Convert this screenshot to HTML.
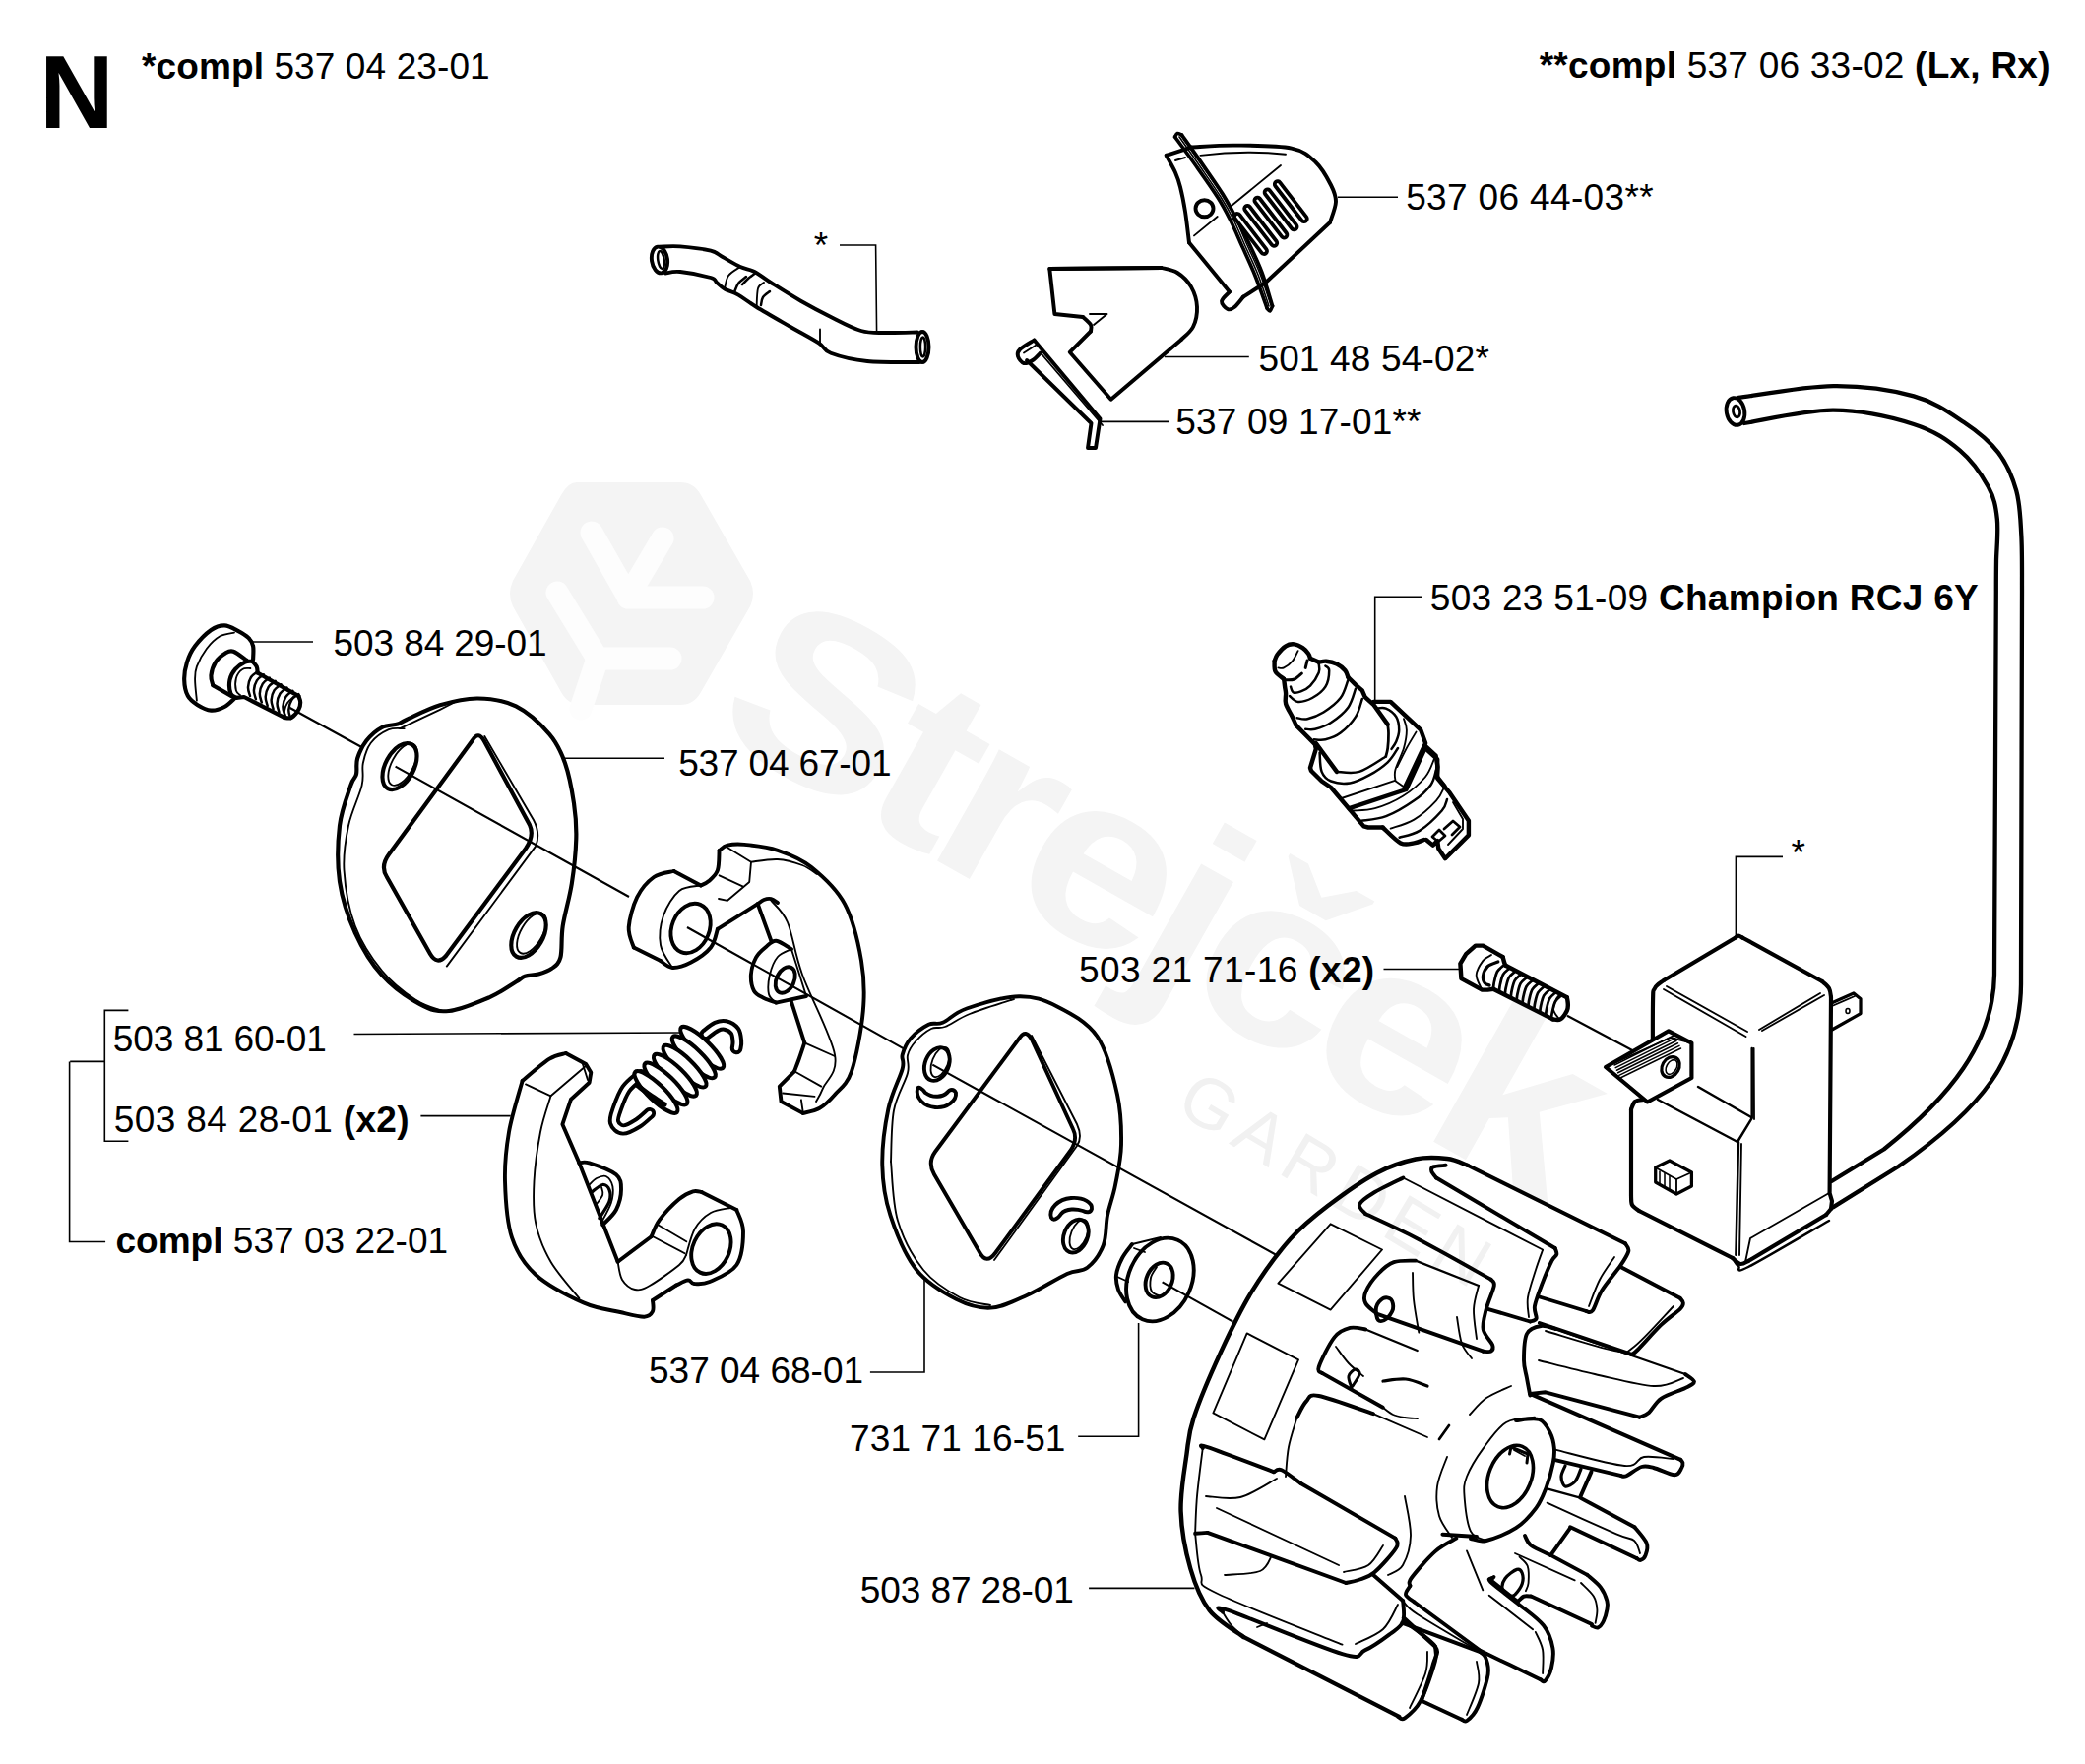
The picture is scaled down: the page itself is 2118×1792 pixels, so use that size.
<!DOCTYPE html>
<html><head><meta charset="utf-8"><style>
html,body{margin:0;padding:0;background:#fff;width:2118px;height:1792px;overflow:hidden}
svg{position:absolute;left:0;top:0}
</style></head><body>
<svg width="2118" height="1792" viewBox="0 0 2118 1792" font-family="Liberation Sans" fill="none" stroke="#000" stroke-linejoin="round" stroke-linecap="round">
<g fill="#f4f4f4" stroke="none">
<path d="M586 490H691Q705 490 712 503L762 590Q768 603 762 616L712 703Q705 716 691 716H591Q577 716 570 703L521 616Q515 603 521 590L570 503Q577 490 586 490Z"/>
<g stroke="#fdfdfd" stroke-width="23" stroke-linecap="round" stroke-linejoin="round" fill="none">
<path d="M601 541L638 606L673 547"/>
<path d="M638 607H714"/>
<path d="M566 602L607 669H681"/>
<path d="M607 669L590 720"/>
</g>
<text x="0" y="0" font-size="245" font-weight="bold" letter-spacing="-11" transform="translate(718 742) rotate(29.5) scale(1.12 1)">Strejček</text>
<text x="1192" y="1128" font-size="72" letter-spacing="9" transform="rotate(31 1192 1128)" fill="#f1f1f1">GARDEN</text>
</g>
<g stroke-width="3">
<path d="M294.6 719L367.4 759M401.6 778.6L639 911M698 942L919.8 1066.3M947.3 1081.6L1298 1275.7" stroke-width="2.12" stroke-linecap="butt"/>
<path d="M1180.6 1302.3L1252.5 1342.6" stroke-width="2.12" stroke-linecap="butt"/>
<path d="M1592 1031.8L1660 1068" stroke-width="2.12" stroke-linecap="butt"/>
<path d="M670 250.6C673.5 250.6 682.3 249.7 691 250.4C699.7 251.1 714.8 252.9 722 254.7C729.2 256.5 729 258.3 734 261C739 263.7 746.6 268.5 752 271C757.4 273.5 761.3 273.3 766.5 276C771.7 278.7 775.2 282.1 783 287C790.8 291.9 803.3 299.9 813.5 305.7C823.7 311.5 833.8 316.9 844 322C854.2 327.1 865.4 333.3 874.7 336C884 338.7 890.5 337.8 900 338C909.5 338.2 926.7 337.6 932 337.5" stroke-width="3.9"/>
<path d="M676 277.5C678.5 277.2 683.3 275.2 691 276C698.7 276.8 715.8 280.2 722 282C728.2 283.8 725.7 285.1 728 287C730.3 288.9 732.3 291.4 736 293.5C739.7 295.6 744.6 296.5 750 299.6C755.4 302.7 759.8 306.6 768.6 312C777.4 317.4 792.4 325.9 803 332C813.6 338.1 825.2 344.1 832 348.6C838.8 353.1 835.8 355.7 844 358.8C852.2 361.9 866 365.5 881 367C896 368.5 925.2 367.8 934 368" stroke-width="3.9"/>
<ellipse cx="670" cy="264" rx="8" ry="13.5" transform="rotate(-8 670 264)" stroke-width="3.9"/>
<ellipse cx="671.5" cy="264" rx="3.2" ry="9" transform="rotate(-8 671.5 264)" stroke-width="2.5"/>
<ellipse cx="937" cy="352.5" rx="6.5" ry="15.5" stroke-width="3.9"/>
<ellipse cx="937.5" cy="352.5" rx="2.6" ry="10" stroke-width="2.5"/>
<path d="M752 271C750 272.5 742.7 276.2 740 280C737.3 283.8 736.7 291.2 736 293.5" stroke-width="1.86"/>
<path d="M758 281C756.7 282.2 752 285.3 750 288C748 290.7 746.7 295.5 746 297" stroke-width="2.5"/>
<path d="M767.6 277C766.3 278 762.3 281 760 283C757.7 285 755 288 754 289" stroke-width="2.5"/>
<path d="M776 287C775 288 771.2 288.8 770 293C768.8 297.2 768.8 308.8 768.6 312" stroke-width="1.86"/>
<path d="M782 296C780.8 297 776.5 299.7 775 302C773.5 304.3 773.3 308.7 773 310" stroke-width="2.5"/>
<path d="M833 334.5V350" stroke-width="1.86"/>
<path d="M1066.3 273L1179.6 272" stroke-width="3.9"/>
<path d="M1179.6 272C1182.3 272.8 1190.9 273.8 1196 277C1201.1 280.2 1206.7 285.6 1210 291.4C1213.3 297.2 1215.7 305 1216 311.8C1216.3 318.6 1214.7 326.5 1212 332C1209.3 337.5 1202 342.8 1200 345" stroke-width="3.9"/>
<path d="M1200 345L1128.6 405.7L1086.7 357.8L1108 336.5" stroke-width="3.9"/>
<path d="M1108 336.5C1108 335.4 1109.3 332.4 1108 330C1106.7 327.6 1101.3 323.3 1100 322" stroke-width="3.9"/>
<path d="M1100 322L1071.4 319L1066.3 273L1179.6 272" stroke-width="3.9"/>
<path d="M1107 319L1124.5 319L1111 330" stroke-width="1.86"/>
<path d="M1050.5 345.5L1117.5 425.5L1113 455L1105 455L1108.5 430L1043 366" stroke-width="3.9"/>
<path d="M1050.5 345.5C1048.1 347.1 1038.8 352.2 1036 355C1033.2 357.8 1033.3 359.7 1034 362C1034.7 364.3 1037.5 368.3 1040 369C1042.5 369.7 1046.2 367.8 1049 366C1051.8 364.2 1055.7 359.8 1057 358.5" stroke-width="3.9"/>
<path d="M1040 358.5L1054 349.5M1057 358.5L1120 432" stroke-width="1.86"/>
<path d="M1210 149.6C1217.5 149.3 1238 147.4 1255 147.6C1272 147.8 1298.4 147.7 1312 150.6C1325.6 153.5 1330 158.8 1336.7 165C1343.4 171.2 1348.6 181.3 1352 188C1355.4 194.7 1357.2 198.7 1357 205C1356.8 211.3 1352 222.5 1351 226" stroke-width="3.9"/>
<path d="M1351 226L1285.7 287L1263 301.6" stroke-width="3.9"/>
<path d="M1263 301.6C1261.5 303.3 1256.7 309.9 1254 312C1251.3 314.1 1249.2 315 1247 314C1244.8 313 1240.7 308.9 1241 306C1241.3 303.1 1247.7 298.1 1249 296.5" stroke-width="3.9"/>
<path d="M1249 296.5L1208 246.5" stroke-width="3.9"/>
<path d="M1208 246.5C1207.3 241.2 1205.5 224.4 1204 215C1202.5 205.6 1200.7 196.7 1199 190C1197.3 183.3 1196.3 180.4 1193.9 175C1191.5 169.6 1186.2 160.7 1184.7 157.8" stroke-width="3.9"/>
<path d="M1184.7 157.8L1210 149.6" stroke-width="3.9"/>
<path d="M1193.6 139C1197.3 144.2 1208.7 159.7 1216 170C1223.3 180.3 1231.6 192 1237.3 201C1243 210 1245.8 215.7 1250 224C1254.2 232.3 1258 241.7 1262.2 251C1266.4 260.3 1270.8 269.6 1275 280C1279.2 290.4 1285.2 307.8 1287.2 313.3" stroke-width="3.64"/>
<path d="M1200.5 137C1203.9 141.8 1214.1 156 1221 166C1227.9 176 1236.2 187.7 1242 197C1247.8 206.3 1251.4 213.3 1256 222C1260.6 230.7 1265.4 239.8 1269.7 249C1274 258.2 1278.2 266.7 1282 277C1285.8 287.3 1290.8 305.2 1292.6 310.8" stroke-width="3.64"/>
<path d="M1193.6 139C1194 138.4 1194.8 135.8 1196 135.5C1197.2 135.2 1199.8 136.8 1200.5 137" stroke-width="3.64"/>
<path d="M1287.2 313.3C1287.7 313.8 1289.1 316.4 1290 316C1290.9 315.6 1292.2 311.7 1292.6 310.8" stroke-width="3.64"/>
<path d="M1198 139C1201.5 144 1212 158.8 1219 169C1226 179.2 1234.3 191 1240 200C1245.7 209 1248.8 214.7 1253 223C1257.2 231.3 1260.8 240.7 1265 250C1269.2 259.3 1274 268.8 1278 279C1282 289.2 1287.2 305.7 1289 311" stroke-width="1.55"/>
<path d="M1200 138C1203.5 143 1214 157.8 1221 168C1228 178.2 1236.3 190 1242 199C1247.7 208 1250.8 213.7 1255 222C1259.2 230.3 1262.8 239.7 1267 249C1271.2 258.3 1276 267.8 1280 278C1284 288.2 1289.2 304.7 1291 310" stroke-width="1.55"/>
<ellipse cx="1223.5" cy="211.8" rx="9" ry="8.5" stroke-width="3.9"/>
<path d="M1257 220C1261.5 225.8 1279.5 249.2 1284 255" stroke-width="9.8"/>
<path d="M1257 220C1261.5 225.8 1279.5 249.2 1284 255" stroke-width="2.2" stroke="#fff"/>
<path d="M1267.2 211.8C1271.7 217.6 1289.7 241 1294.2 246.8" stroke-width="9.8"/>
<path d="M1267.2 211.8C1271.7 217.6 1289.7 241 1294.2 246.8" stroke-width="2.2" stroke="#fff"/>
<path d="M1277.4 203.6C1281.9 209.4 1299.9 232.8 1304.4 238.6" stroke-width="9.8"/>
<path d="M1277.4 203.6C1281.9 209.4 1299.9 232.8 1304.4 238.6" stroke-width="2.2" stroke="#fff"/>
<path d="M1287.6 195.4C1292.1 201.2 1310.1 224.6 1314.6 230.4" stroke-width="9.8"/>
<path d="M1287.6 195.4C1292.1 201.2 1310.1 224.6 1314.6 230.4" stroke-width="2.2" stroke="#fff"/>
<path d="M1297.8 187.2C1302.3 193 1320.3 216.4 1324.8 222.2" stroke-width="9.8"/>
<path d="M1297.8 187.2C1302.3 193 1320.3 216.4 1324.8 222.2" stroke-width="2.2" stroke="#fff"/>
<path d="M1219.4 157.8C1250 154 1280 154 1306 156.7" stroke-width="1.86"/>
<path d="M1250 209.8L1301 168M1213 239.4L1236.7 220M1194 163L1204 160" stroke-width="1.86"/>
<path d="M1766 404C1782.1 402 1832.7 392.5 1862.4 392.2C1892.1 391.9 1921.9 396.3 1944 402.4C1966.1 408.5 1980.7 419.5 1995 429C2009.3 438.5 2020.9 448 2029.8 459.6C2038.7 471.2 2044.3 484.4 2048.2 498.4C2052.1 512.3 2052.3 526.4 2053.3 543.3C2054.3 560.2 2053.9 590.5 2054 600L2053 1000C2052.5 1075 2015 1125 1928.4 1185L1862 1226.4" stroke-width="4.29"/>
<path d="M1772 430C1787.1 427.8 1833.7 416.5 1862.4 416.7C1891.1 416.9 1922.6 424.2 1944 431C1965.4 437.8 1978.4 447.1 1991 457.6C2003.6 468.2 2013.3 482.7 2019.6 494.3C2025.9 505.9 2027.4 514.4 2028.8 527C2030.2 539.6 2028.2 557.8 2028 570C2027.8 582.2 2027.8 595 2027.8 600L2026 990C2025 1060 1980 1115 1913.7 1167.5L1860.6 1200" stroke-width="4.29"/>
<ellipse cx="1763" cy="418" rx="9.2" ry="14" transform="rotate(-10 1763 418)" stroke-width="3.9"/>
<ellipse cx="1764" cy="418" rx="3.5" ry="6" transform="rotate(-10 1764 418)" stroke-width="2.75"/>
<path d="M257.1 669.9C257.1 667.6 257.9 659.9 257.1 656.3C256.4 652.7 255.2 650.7 252.6 648.1C250 645.5 245.8 642.9 241.7 640.8C237.6 638.7 232.6 635.5 228.1 635.4C223.6 635.3 219.4 636.5 214.4 640C209.4 643.5 202.2 650.9 198.1 656.3C194 661.7 191.8 666.9 190 672.6C188.2 678.3 187 685 187.2 690.7C187.3 696.5 188.6 702.9 190.9 707.1C193.2 711.4 196.9 713.8 200.8 716.2C204.7 718.6 209.9 721.3 214.4 721.6C218.9 721.9 224 720.1 228.1 718C232.2 715.9 237.2 710.4 239 708.9" stroke-width="4.16"/>
<path d="M238 642.6C235.6 643.2 228.2 643.6 223.5 646.3C218.8 649 213.8 653.9 209.9 659C206 664.1 201.9 671.8 199.9 677.1C197.9 682.4 198.1 685 198.1 690.7C198.1 696.5 199.6 708.1 199.9 711.6" stroke-width="1.86"/>
<path d="M250.7 670.8C248.4 669.3 240.7 662.9 237.1 661.7C233.5 660.5 232 661.7 229 663.5C226 665.3 221.4 668.8 219 672.6C216.6 676.4 214.8 682.3 214.4 686.2C214 690.1 216 694.5 216.3 696.2" stroke-width="4.16"/>
<path d="M216.3 696.2L235.3 707.1" stroke-width="4.16"/>
<path d="M256.2 671.7C256.9 672.6 259.8 675.1 260.7 677.1C261.6 679.1 261.5 682.4 261.6 683.5" stroke-width="4.16"/>
<path d="M261.6 683.5L303.4 707.1" stroke-width="4.16"/>
<path d="M303.4 707.1C303.7 708.1 305.2 711.1 305.2 713.4C305.2 715.7 304.9 718.1 303.4 720.7C301.9 723.3 298.5 727.5 296.1 728.9C293.7 730.3 290.1 728.9 288.9 728.9" stroke-width="4.16"/>
<path d="M288.9 728.9L248 708L239.9 708.9" stroke-width="4.16"/>
<path d="M239.9 708.9C239 708.1 235.5 707.4 234.4 704.4C233.3 701.4 232.7 694.8 233.5 690.7C234.3 686.6 236.4 682.9 239 679.9C241.6 676.9 246 674 248.9 672.6C251.8 671.2 255 671.9 256.2 671.7" stroke-width="4.16"/>
<path d="M254.4 679C253 679.1 248.6 678.2 246.2 679.9C243.8 681.5 240.9 685.3 239.9 688.9C238.9 692.5 239.2 698.8 239.9 701.6C240.6 704.5 243.3 705.3 244 706" stroke-width="1.86"/>
<path d="M262 682C260.8 683 256.7 685.3 255 688C253.3 690.7 252.2 694.8 252 698C251.8 701.2 253.7 705.5 254 707" stroke-width="2.5"/>
<path d="M267.9 685.3C266.7 686.3 262.6 688.6 260.9 691.3C259.2 694 258.1 698.1 257.9 701.3C257.7 704.5 259.6 708.8 259.9 710.3" stroke-width="2.5"/>
<path d="M273.8 688.6C272.6 689.6 268.5 691.9 266.8 694.6C265.1 697.3 264 701.4 263.8 704.6C263.6 707.8 265.5 712.1 265.8 713.6" stroke-width="2.5"/>
<path d="M279.7 691.9C278.5 692.9 274.4 695.2 272.7 697.9C271 700.6 269.9 704.7 269.7 707.9C269.5 711.1 271.4 715.4 271.7 716.9" stroke-width="2.5"/>
<path d="M285.6 695.2C284.4 696.2 280.3 698.5 278.6 701.2C276.9 703.9 275.8 708 275.6 711.2C275.4 714.4 277.3 718.7 277.6 720.2" stroke-width="2.5"/>
<path d="M291.5 698.5C290.3 699.5 286.2 701.8 284.5 704.5C282.8 707.2 281.7 711.3 281.5 714.5C281.3 717.7 283.2 722 283.5 723.5" stroke-width="2.5"/>
<path d="M297.4 701.8C296.2 702.8 292.1 705.1 290.4 707.8C288.7 710.5 287.6 714.6 287.4 717.8C287.2 721 289.1 725.3 289.4 726.8" stroke-width="2.5"/>
<path d="M303.3 705.1C302.1 706.1 298 708.4 296.3 711.1C294.6 713.8 293.5 717.9 293.3 721.1C293.1 724.3 295 728.6 295.3 730.1" stroke-width="2.5"/>
<path d="M298 708C297 709 293.5 711.7 292 714C290.5 716.3 289.3 719.8 289 722C288.7 724.2 289.8 726.2 290 727" stroke-width="1.86"/>
<path d="M485.5 709.5C498.4 709.7 512 711.4 524.1 717.4C536.2 723.4 549.8 736.2 558.1 745.8C566.4 755.4 569.9 763.5 574 775.2C578.1 786.9 581.1 803.1 583 816C584.9 828.9 585.7 838.7 585.3 852.3C584.9 865.9 583.1 883 580.8 897.7C578.5 912.5 573.6 928.3 571.7 940.8C569.8 953.3 571.3 965.3 569.4 972.5C567.5 979.7 564.2 981.1 560.4 983.9C556.6 986.7 551.3 988.2 546.8 989.5C542.3 990.8 537 990.5 533.2 991.8C529.4 993.1 530.2 993.9 524.1 997.5C518 1001.1 508.2 1008.4 496.9 1013.3C485.5 1018.2 467.7 1025.9 456 1027C444.3 1028.1 437.9 1026.2 426.6 1020.1C415.3 1014.1 399 1002.8 388 990.7C377 978.6 368 963.5 360.8 947.6C353.6 931.7 347.6 913.5 345 895.4C342.4 877.2 343.1 855 345 838.7C346.9 822.5 353.5 806.6 356.3 797.9C359.1 789.2 360.9 791.1 362 786.6C363.1 782.1 361.4 776.4 363.1 770.7C364.8 765 368.1 757.9 372.2 752.6C376.3 747.3 382.7 741.8 388 739C393.3 736.2 399.7 736.9 403.9 735.6C408.1 734.3 405.8 734.2 413 731C420.2 727.8 434.9 719.9 447 716.3C459.1 712.7 472.6 709.3 485.5 709.5Z" stroke-width="4.16"/>
<path d="M410.7 740.1C408.1 740.3 400.5 738.8 394.8 741.2C389.1 743.7 381 749.1 376.7 754.8C372.4 760.5 370.3 768 368.8 775.2C367.3 782.4 370.1 787.3 367.6 797.9C365.1 808.5 357 824.4 354 838.7C351 853.1 348.4 867 349.5 884C350.6 901 354.4 923.8 360.8 940.8C367.2 957.8 377.8 973.6 388 986.1C398.2 998.6 411.8 1008.8 422 1015.6C432.2 1022.4 444.8 1025.1 449.3 1027" stroke-width="1.86"/>
<path d="M406.2 740.1C413 736.9 437.2 725.5 447 720.8C456.8 716.1 462.1 713.2 465.1 711.7" stroke-width="1.86"/>
<path d="M480 752L395 868Q386 880 393 891L437 969Q444 981 453 971L534 862Q543 849 538 838L492 753Q486 742 480 752Z" stroke-width="4.16"/>
<path d="M492.3 748L542 833Q549 846 544.5 859.1L453.8 981.6" stroke-width="1.86"/>
<ellipse cx="406" cy="778.6" rx="14.5" ry="25.5" transform="rotate(28 406 778.6)" stroke-width="4.16"/>
<ellipse cx="409" cy="776.5" rx="11" ry="23.5" transform="rotate(28 409 776.5)" stroke-width="1.86"/>
<ellipse cx="537" cy="950" rx="14.5" ry="25" transform="rotate(30 537 950)" stroke-width="4.16"/>
<ellipse cx="540" cy="948" rx="11" ry="23" transform="rotate(30 540 948)" stroke-width="1.86"/>
<path d="M1035 1012.2C1050.3 1011.9 1060.6 1015.6 1073.9 1022.4C1087.2 1029.2 1104.5 1038.1 1114.7 1053C1124.9 1067.9 1131 1093.7 1135 1112C1139 1130.3 1139.3 1147.7 1139 1163C1138.7 1178.3 1135.3 1192 1133 1204C1130.7 1216 1127 1224.5 1125 1234.7C1123 1244.9 1124.2 1256.2 1120.8 1265C1117.4 1273.8 1110.6 1283 1104.5 1287.8C1098.4 1292.6 1094.2 1289.3 1084 1294C1073.8 1298.7 1055.9 1310.2 1043 1316C1030.1 1321.8 1018.4 1327.9 1006.5 1328.6C994.6 1329.3 984.4 1326.4 971.8 1320C959.2 1313.6 942.2 1304.2 931 1290C919.8 1275.8 910.3 1252.4 904.5 1234.7C898.7 1217 896.6 1201.7 896.3 1183.7C895.9 1165.7 899 1142.8 902.4 1126.5C905.8 1110.2 914.3 1094.9 916.7 1085.7C919.1 1076.5 915.3 1076.5 916.7 1071.4C918.1 1066.3 920.6 1060.1 925 1055C929.4 1049.9 937.9 1043.5 943.3 1040.8C948.7 1038.1 951.1 1041.5 957.6 1038.8C964.1 1036.1 969.1 1028.9 982 1024.5C994.9 1020.1 1019.7 1012.6 1035 1012.2Z" stroke-width="3.9"/>
<path d="M905 1180C905.5 1171.3 905.2 1143 908 1128C910.8 1113 919.7 1099.3 922 1090C924.3 1080.7 920.7 1077.3 922 1072C923.3 1066.7 926 1062.5 930 1058C934 1053.5 941 1047.5 946 1045C951 1042.5 953.5 1045.5 960 1043C966.5 1040.5 973.3 1034.7 985 1030C996.7 1025.3 1022.5 1017.5 1030 1015" stroke-width="1.86"/>
<path d="M905 1180C906.2 1190 906.5 1221.7 912 1240C917.5 1258.3 927.5 1277 938 1290C948.5 1303 963.7 1312 975 1318C986.3 1324 1000.8 1324.7 1006 1326" stroke-width="1.86"/>
<path d="M1036 1054L950 1170Q942 1181 949 1193L995 1272Q1002 1285 1011 1273L1088 1168Q1095 1157 1090 1147L1048 1056Q1042 1045 1036 1054Z" stroke-width="3.9"/>
<path d="M1048 1052L1094 1142Q1100 1155 1094 1164L1010 1280" stroke-width="1.86"/>
<ellipse cx="951.8" cy="1081" rx="12" ry="17.5" transform="rotate(22 951.8 1081)" stroke-width="3.9"/>
<ellipse cx="955" cy="1079" rx="8" ry="16" transform="rotate(22 955 1079)" stroke-width="1.86"/>
<ellipse cx="1092.8" cy="1255.6" rx="12" ry="17.5" transform="rotate(22 1092.8 1255.6)" stroke-width="3.9"/>
<ellipse cx="1096" cy="1254" rx="8" ry="16" transform="rotate(22 1096 1254)" stroke-width="1.86"/>
<path d="M932 1106C930 1115 938 1124 950 1125C962 1126 972 1118 971 1110C969 1106 965 1106 962 1110C958 1114 948 1116 940 1110C937 1106 933 1103 932 1106Z" stroke-width="3.9"/>
<path d="M1068 1237C1065 1228 1075 1218 1088 1217C1101 1216 1110 1222 1109 1228C1108 1232 1104 1232 1100 1230C1094 1228 1083 1227 1078 1233C1074 1239 1070 1240 1068 1237Z" stroke-width="3.9"/>
<ellipse cx="1178.4" cy="1300" rx="32" ry="44" transform="rotate(24 1178.4 1300)" stroke-width="3.9"/>
<path d="M1150 1264C1148.3 1266.3 1142.7 1272.8 1140 1278C1137.3 1283.2 1134.7 1289.7 1134 1295C1133.3 1300.3 1134.5 1305.4 1136 1310C1137.5 1314.6 1142 1320.3 1143.2 1322.4" stroke-width="3.9"/>
<path d="M1150 1264L1179 1257M1135 1297L1146 1302M1152 1268L1163 1272" stroke-width="1.86"/>
<ellipse cx="1177.6" cy="1300.4" rx="13" ry="18.5" transform="rotate(24 1177.6 1300.4)" stroke-width="3.9"/>
<path d="M1175 1287C1174 1288.8 1169.8 1293.8 1169 1298C1168.2 1302.2 1168.2 1308.8 1170 1312C1171.8 1315.2 1178.3 1316.2 1180 1317" stroke-width="1.86"/>
<path d="M730.6 864C732 863.1 734.8 859.7 739 858.7C743.2 857.7 747.5 857 756 857.9C764.5 858.8 778.7 860 790 863.8C801.3 867.6 812.7 871.7 824 880.8C835.3 889.9 849.5 902.3 858 918.2C866.5 934.1 871.9 957.9 875 976C878.1 994.1 878.5 1008.3 876.8 1027C875.1 1045.7 869.8 1074.1 865 1088.3C860.2 1102.5 853.4 1105.8 848 1112C842.6 1118.2 838 1122.6 832.6 1125.8C827.2 1129 818.4 1130.1 815.6 1130.9" stroke-width="3.9"/>
<path d="M815.6 1130.9L793.5 1119L791.8 1103.6L807 1088.3" stroke-width="3.9"/>
<path d="M807 1088.3C807.8 1086.1 810.3 1079.8 812 1075C813.7 1070.2 816.4 1062 817.3 1059.4" stroke-width="3.9"/>
<path d="M817.3 1059.4L803.7 1017" stroke-width="3.9"/>
<path d="M819 1012L788.4 1018.6" stroke-width="3.9"/>
<path d="M788.4 1018.6C786.3 1017.8 779.7 1016 776 1014C772.3 1012 768.2 1010.7 766 1006.7C763.8 1002.7 762.6 995.7 762.9 990C763.2 984.3 765.5 977.4 768 972.7C770.5 968 774.6 964.8 778 962C781.4 959.2 784.1 955.3 788.4 955.7C792.7 956.1 801.4 962.8 804 964.2" stroke-width="3.9"/>
<path d="M769.7 918.2L783.3 955.7" stroke-width="3.9"/>
<path d="M769.7 918.2C770.8 917.5 773.7 914.9 776 914C778.3 913.1 781 912.6 783.3 913.1C785.6 913.6 788.9 916.4 790 917" stroke-width="3.9"/>
<path d="M769.7 918.2L728.9 943.8" stroke-width="3.9"/>
<path d="M728.9 943.8C727.8 946.9 726.5 956.8 722 962.5C717.5 968.2 708.1 974.4 701.6 977.8C695.1 981.2 688.1 983.3 683 983C677.9 982.7 673 977.2 671 976" stroke-width="3.9"/>
<path d="M671 976L643.8 962.5" stroke-width="3.9"/>
<path d="M643.8 962.5C642.9 959.1 638.1 950.5 638.7 942C639.3 933.5 643 919.9 647.2 911.4C651.5 902.9 658 895.4 664.2 891C670.4 886.6 681.2 886 684.6 885" stroke-width="3.9"/>
<path d="M684.6 885L711.9 899.5" stroke-width="3.9"/>
<path d="M711.9 899.5C713.2 898.8 717.2 897.5 720 895C722.8 892.5 727.1 889.4 728.9 884.2C730.7 879 730.3 867.4 730.6 864" stroke-width="3.9"/>
<path d="M728.9 884.2C730.4 884.8 735.3 885.2 738 888C740.7 890.8 742.7 897 745 901C747.3 905 750.8 910.2 752 912" stroke-width="0.0"/>
<ellipse cx="701.6" cy="943" rx="19" ry="26" transform="rotate(22 701.6 943)" stroke-width="3.9"/>
<path d="M711.9 899.5C708.2 900.4 696.3 899.9 690 905C683.7 910.1 677.2 920.8 674 930C670.8 939.2 669.5 951.2 671 960C672.5 968.8 681 979.2 683 983" stroke-width="1.86"/>
<path d="M739 861L763 875.7L761.2 896L739 914.8L730 913" stroke-width="1.86"/>
<path d="M730.6 889.3L754.4 900.4" stroke-width="1.86"/>
<path d="M763 875.7C767.5 875.2 781.3 872.5 790 873C798.7 873.5 808.3 876.5 815 879C821.7 881.5 827.5 886.5 830 888" stroke-width="1.86"/>
<path d="M783.3 914.8C786.1 918.5 794.7 924.5 800 937C805.3 949.5 807 967.6 815 990C823 1012.4 844.5 1052.1 848 1071.3C851.5 1090.5 839.2 1097.3 836 1105.3C832.8 1113.2 830.2 1116.7 829 1119" stroke-width="1.86"/>
<path d="M817.3 1059.4L848 1073M807 1088.3L834.3 1103.6M795.2 1110.5L827.5 1113.9M813.9 1117.3L815.6 1129" stroke-width="1.86"/>
<ellipse cx="797.7" cy="995.5" rx="9" ry="14" transform="rotate(25 797.7 995.5)" stroke-width="3.9"/>
<path d="M804 964.2C801.7 965.5 793.7 967.7 790 972C786.3 976.3 783.5 983.7 782 990C780.5 996.3 779.9 1005.2 781 1010C782.1 1014.8 787.2 1017.2 788.4 1018.6" stroke-width="1.86"/>
<path d="M804 964.2L819 1011.8" stroke-width="1.86"/>
<path d="M663 1321C663 1322.9 664.4 1329.4 663 1332.2C661.6 1335 659.9 1337.6 654.4 1337.7C648.9 1337.8 640.3 1335.4 630 1333C619.7 1330.6 607 1329.8 592.7 1323.4C578.4 1317 556.1 1305.7 544 1294.7C531.9 1283.7 525.2 1273 520 1257.2C514.8 1241.4 513.5 1217.9 513 1200C512.5 1182.1 514.1 1167 517 1150C519.9 1133 528.3 1106.7 530.6 1098" stroke-width="3.9"/>
<path d="M530.6 1098C535.1 1094.3 550.4 1080.6 557.8 1075.9C565.2 1071.2 572 1071 574.8 1070" stroke-width="3.9"/>
<path d="M574.8 1070L595.2 1081L600.3 1089.5L598.6 1099.7L580 1116.7L571.4 1142.2L588.4 1181.4" stroke-width="3.9"/>
<path d="M588.4 1181.4C590.1 1181.4 592.4 1179.4 598.6 1181.4C604.9 1183.4 620.5 1188.8 625.9 1193.3C631.3 1197.8 631 1202.6 631 1208.6C631 1214.5 629 1223 625.9 1229C622.8 1235 614.5 1241.8 612.2 1244.3" stroke-width="3.9"/>
<path d="M588.4 1181.4L627.6 1281.7" stroke-width="3.9"/>
<path d="M627.6 1281.7L661.6 1256.2" stroke-width="3.9"/>
<path d="M661.6 1256.2C663 1253.4 665.3 1245.6 670 1239.2C674.7 1232.8 684.3 1222.8 690 1218C695.7 1213.2 700.2 1211.5 704 1210.3C707.8 1209.1 711.2 1210.9 712.6 1211" stroke-width="3.9"/>
<path d="M712.6 1211L748.3 1229" stroke-width="3.9"/>
<path d="M748.3 1229C749.4 1232.7 755 1241.7 755 1251C755 1260.3 754 1276.5 748.3 1285C742.6 1293.5 728.2 1298.8 721 1302C713.8 1305.2 708.7 1304.3 705 1304C701.3 1303.7 702 1300.2 699 1300.4C696 1300.7 689 1304.7 687 1305.5" stroke-width="3.9"/>
<path d="M687 1305.5L663 1321" stroke-width="3.9"/>
<path d="M627.6 1281.7C628.3 1284.8 629.1 1295.3 632 1300C634.9 1304.7 640.3 1309 645 1310C649.7 1311 652.5 1310.2 660 1306C667.5 1301.8 683.8 1290.2 690 1285C696.2 1279.8 695.8 1276.7 697 1275" stroke-width="1.86"/>
<ellipse cx="722.4" cy="1268.6" rx="18.5" ry="26.5" transform="rotate(25 722.4 1268.6)" stroke-width="3.9"/>
<path d="M742 1227C738.7 1227.8 728 1228.5 722 1232C716 1235.5 710.2 1240.8 706 1248C701.8 1255.2 698.5 1270.5 697 1275" stroke-width="1.86"/>
<path d="M668.4 1244.3L697.3 1261.3M663.3 1256.2L695.6 1273.2" stroke-width="1.86"/>
<path d="M534 1101.4L559.5 1113.3L595.2 1082.7M591 1078L597 1097" stroke-width="1.86"/>
<path d="M559.5 1113.3C557.8 1119.4 551.8 1135.5 549 1150C546.2 1164.5 543.3 1184.6 542.5 1200C541.7 1215.4 541.4 1229 544.2 1242.6C547 1256.2 552.1 1269 559.5 1281.7C566.9 1294.4 583.6 1312.8 588.4 1319" stroke-width="1.86"/>
<path d="M598.6 1203.5C599.8 1202.4 603.2 1198.4 606 1197C608.8 1195.6 612.9 1193.6 615.6 1195C618.3 1196.4 621.5 1200.7 622.4 1205.2C623.2 1209.7 622.7 1216 620.7 1222.2C618.7 1228.4 612.2 1239.2 610.5 1242.6" stroke-width="1.86"/>
<path d="M602 1210.3C603.7 1209.2 609.4 1203.8 612.2 1203.5C615 1203.2 617.9 1205.8 619 1208.6C620.1 1211.4 620.7 1215.7 619 1220.5C617.3 1225.3 610.5 1234.7 608.8 1237.5" stroke-width="3.25"/>
<path d="M605.4 1223.9C606.5 1222.2 611.3 1216.7 612.2 1213.7C613.1 1210.7 611.2 1207.3 611 1206" stroke-width="1.86"/>
<path d="M651 1092C648.5 1094.3 640 1100.3 636 1106C632 1111.7 629 1120.3 627 1126C625 1131.7 623 1136.4 624 1140C625 1143.6 629 1147.3 633 1147.5C637 1147.7 643.5 1143.8 648 1141C652.5 1138.2 658 1132.7 660 1131" stroke-width="12.2"/><path d="M651 1092C648.5 1094.3 640 1100.3 636 1106C632 1111.7 629 1120.3 627 1126C625 1131.7 623 1136.4 624 1140C625 1143.6 629 1147.3 633 1147.5C637 1147.7 643.5 1143.8 648 1141C652.5 1138.2 658 1132.7 660 1131" stroke-width="4.4" stroke="#fff"/>
<ellipse cx="713.2" cy="1064.3" rx="29.5" ry="8.2" transform="rotate(44 713.2 1064.3)" stroke-width="4.16" fill="#fff"/>
<ellipse cx="704.8" cy="1073.8" rx="29.5" ry="8.2" transform="rotate(44 704.8 1073.8)" stroke-width="4.16" fill="#fff"/>
<ellipse cx="695.5" cy="1083.1" rx="29.5" ry="8.2" transform="rotate(44 695.5 1083.1)" stroke-width="4.16" fill="#fff"/>
<ellipse cx="685.9" cy="1092.2" rx="29.5" ry="8.2" transform="rotate(44 685.9 1092.2)" stroke-width="4.16" fill="#fff"/>
<ellipse cx="676.4" cy="1101" rx="29.5" ry="8.2" transform="rotate(44 676.4 1101)" stroke-width="4.16" fill="#fff"/>
<ellipse cx="666.5" cy="1109.5" rx="29.5" ry="8.2" transform="rotate(44 666.5 1109.5)" stroke-width="4.16" fill="#fff"/>
<path d="M648 1103C650 1104.5 655.5 1108.8 660 1112C664.5 1115.2 672.5 1120.3 675 1122" stroke-width="5.2"/>
<path d="M716.9 1050.6C718.7 1049.3 724.6 1044.4 727.9 1042.9C731.2 1041.4 733.7 1040.8 736.8 1041.5C739.9 1042.2 744.4 1044.7 746.4 1047.4C748.4 1050.2 748.5 1055.1 748.8 1058C749.1 1060.9 748.2 1063.8 748.1 1065" stroke-width="12.7"/><path d="M716.9 1050.6C718.7 1049.3 724.6 1044.4 727.9 1042.9C731.2 1041.4 733.7 1040.8 736.8 1041.5C739.9 1042.2 744.4 1044.7 746.4 1047.4C748.4 1050.2 748.5 1055.1 748.8 1058C749.1 1060.9 748.2 1063.8 748.1 1065" stroke-width="4.6000000000000005" stroke="#fff"/>
<path d="M1263.2 1662.9C1257.4 1658.4 1237.6 1647.5 1228.6 1635.9C1219.6 1624.3 1214.1 1610.2 1209.3 1593.5C1204.5 1576.8 1200.2 1554.9 1199.6 1535.6C1198.9 1516.3 1203.2 1493.7 1205.4 1477.8C1207.6 1461.9 1207 1457.2 1212.7 1440C1218.4 1422.8 1229.9 1395.6 1239.7 1374.3C1249.5 1353 1259.5 1331.7 1271.4 1312.4C1283.3 1293.1 1297.8 1273.2 1311 1258.4C1324.2 1243.6 1336.2 1234.6 1350.8 1223.5C1365.4 1212.4 1383.9 1199.4 1398.4 1191.7C1412.9 1184 1426.1 1180 1438 1177.5C1449.9 1175 1461.2 1176 1470 1177C1478.8 1178 1487.3 1182.7 1490.8 1183.8" stroke-width="4.42"/>
<path d="M1490.8 1183.8L1651 1263.2" stroke-width="3.9"/>
<path d="M1651 1263.2C1651.5 1264.5 1655.1 1267.3 1654.3 1271C1653.5 1274.7 1650.8 1278.8 1646.3 1285.4C1641.8 1292 1632 1303.1 1627.3 1310.8C1622.5 1318.5 1620.4 1327.9 1617.8 1331.4C1615.2 1334.9 1612.5 1331.9 1611.4 1332" stroke-width="3.9"/>
<path d="M1611.4 1332L1562.2 1317" stroke-width="3.9"/>
<path d="M1640 1277C1637.5 1280.8 1629.3 1291.7 1625 1300C1620.7 1308.3 1615.8 1322.5 1614 1327" stroke-width="1.86"/>
<path d="M1263.2 1662.9L1421.3 1743.8" stroke-width="4.16"/>
<path d="M1351.6 1243.3L1404 1269.5L1351.6 1330.6L1298.4 1303.7Z" stroke-width="1.86"/>
<path d="M1266.7 1354.4L1319 1381.4L1284.4 1462.4L1232.4 1435.4Z" stroke-width="1.86"/>
<path d="M1468.6 1183.8C1466.5 1184.1 1458.3 1184.4 1455.9 1185.4C1453.5 1186.4 1453.8 1188.2 1454.3 1190C1454.8 1191.8 1458.2 1195.4 1459 1196.5" stroke-width="3.9"/>
<path d="M1459 1196.5L1579.7 1268" stroke-width="3.9"/>
<path d="M1579.7 1268C1580 1269 1581.8 1272.2 1581.3 1274.3C1580.8 1276.4 1578.9 1275.8 1576.5 1280.6C1574.1 1285.4 1569.9 1295.2 1567 1302.9C1564.1 1310.6 1560.1 1320.6 1559 1326.7C1557.9 1332.8 1561.4 1336.8 1560.6 1339.4C1559.8 1342 1555.3 1342 1554.3 1342.5" stroke-width="3.9"/>
<path d="M1554.3 1342.5L1511.4 1329.8" stroke-width="3.9"/>
<path d="M1567 1270C1565.8 1273.3 1562.5 1282 1560 1290C1557.5 1298 1553.2 1310 1552 1318C1550.8 1326 1552.8 1334.7 1553 1338" stroke-width="1.86"/>
<path d="M1425.4 1196.5C1420.3 1199.1 1402.4 1207.5 1395 1212C1387.6 1216.5 1382.3 1220 1381 1223.5C1379.7 1227 1386 1231.4 1387 1233" stroke-width="3.9"/>
<path d="M1425.4 1196.5L1567 1269.5" stroke-width="1.86"/>
<path d="M1387 1233C1395.8 1237.2 1418.7 1247.3 1440 1258.4C1461.3 1269.5 1502.2 1292.8 1514.6 1299.7" stroke-width="3.9"/>
<path d="M1514.6 1299.7C1515.1 1300.8 1518.6 1301 1517.8 1306C1517 1311 1511.6 1322.4 1509.8 1329.8C1508 1337.2 1505.6 1344.4 1506.7 1350.5C1507.8 1356.6 1514.9 1362.6 1516.2 1366.3C1517.5 1370 1516.2 1371.6 1514.6 1372.7C1513 1373.8 1508 1372.7 1506.7 1372.7" stroke-width="3.9"/>
<path d="M1506.7 1372.7L1398.4 1334.6" stroke-width="3.9"/>
<path d="M1398.4 1334.6C1396.6 1332.8 1389.2 1327.7 1387.3 1324C1385.4 1320.3 1385.2 1317.4 1387.3 1312.4C1389.4 1307.4 1395.2 1299 1400 1294C1404.8 1289 1409.6 1284.4 1415.9 1282.2C1422.2 1280 1434.3 1280.9 1438 1280.6" stroke-width="3.9"/>
<path d="M1438 1280.6L1502 1306" stroke-width="2.25"/>
<path d="M1502 1306C1501.2 1310 1497.3 1321 1497 1330C1496.7 1339 1499.5 1355 1500 1360" stroke-width="1.86"/>
<path d="M1400 1341C1398.3 1339 1397.2 1331.7 1398 1328C1398.8 1324.3 1402.5 1320.3 1405 1319C1407.5 1317.7 1411.3 1318.2 1413 1320C1414.7 1321.8 1415.8 1326.7 1415 1330C1414.2 1333.3 1410.5 1338.2 1408 1340C1405.5 1341.8 1401.7 1343 1400 1341Z" stroke-width="3.9"/>
<path d="M1435 1293C1435.2 1297.5 1435 1309.9 1436 1320C1437 1330.1 1440.4 1348.1 1441.3 1353.7" stroke-width="1.86"/>
<path d="M1480 1338C1480.8 1342.5 1482.5 1358 1485 1365C1487.5 1372 1493.3 1377.5 1495 1380" stroke-width="1.86"/>
<path d="M1342.9 1394.9C1342.4 1393.9 1337.6 1394.7 1339.7 1388.6C1341.8 1382.5 1350.3 1365 1355.6 1358.4C1360.9 1351.8 1366.1 1350.2 1371.4 1348.9C1376.7 1347.6 1384.7 1350.2 1387.3 1350.5" stroke-width="3.9"/>
<path d="M1387.3 1350.5L1439.7 1372" stroke-width="2.25"/>
<path d="M1342.9 1394.9L1404.8 1429.8" stroke-width="3.9"/>
<path d="M1373 1410C1372.5 1408 1369.3 1401.2 1370 1398C1370.7 1394.8 1375.2 1391.3 1377 1391C1378.8 1390.7 1381.5 1393.2 1381 1396C1380.5 1398.8 1375.2 1406 1374 1408" stroke-width="3.0"/>
<path d="M1357 1368C1359.2 1370.8 1365.3 1380 1370 1385C1374.7 1390 1382.5 1395.8 1385 1398" stroke-width="1.86"/>
<path d="M1405 1403C1408.8 1402.7 1420.5 1400.2 1428 1401C1435.5 1401.8 1446.3 1406.8 1450 1408" stroke-width="3.25"/>
<path d="M1404.8 1429.8C1406.5 1431 1411.3 1435.3 1415 1437C1418.7 1438.7 1422.8 1439.3 1427 1440C1431.2 1440.7 1437.8 1440.8 1440 1441" stroke-width="1.86"/>
<path d="M1317.5 1440C1319.1 1437.2 1323.3 1427.2 1327 1423.5C1330.7 1419.8 1328.4 1415.9 1339.7 1418C1351 1420.1 1385.8 1433.2 1395 1436.2" stroke-width="3.9"/>
<path d="M1317.5 1440C1316.1 1445 1310.9 1460 1309 1470C1307.1 1480 1306.5 1495 1306 1500" stroke-width="1.86"/>
<path d="M1395 1436.2L1450 1460" stroke-width="1.86"/>
<path d="M1221.8 1471C1222.6 1470.8 1214.6 1466.1 1226.6 1470.1C1238.6 1474.1 1282.8 1491 1294 1495.2" stroke-width="3.9"/>
<path d="M1294 1495.2C1295.3 1494.9 1297.3 1491.3 1301.8 1493.2C1306.3 1495.1 1317.8 1504.5 1321 1506.7" stroke-width="3.9"/>
<path d="M1321 1506.7L1417.4 1562.6" stroke-width="3.9"/>
<path d="M1417.4 1562.6C1417.6 1564.2 1421.9 1566.5 1418.4 1572.3C1414.9 1578.1 1402.6 1591.8 1396.2 1597.3C1389.8 1602.8 1384.8 1603.2 1380 1605C1375.2 1606.8 1369.4 1607.5 1367.3 1608" stroke-width="3.9"/>
<path d="M1367.3 1608L1226.6 1556.9" stroke-width="3.9"/>
<path d="M1226.6 1556.9C1224.5 1557.1 1216.2 1557.7 1214.1 1557.8" stroke-width="3.9"/>
<path d="M1221.8 1471C1220.8 1479.2 1217.3 1505.5 1216 1520C1214.7 1534.5 1214.4 1551.5 1214.1 1557.8" stroke-width="1.86"/>
<path d="M1225 1520C1230.8 1520.2 1248 1524 1260 1521C1272 1518 1290.8 1505.2 1297 1502" stroke-width="1.86"/>
<path d="M1236 1532L1360 1590" stroke-width="1.86"/>
<path d="M1405 1570C1402.5 1573.3 1396.7 1585.5 1390 1590C1383.3 1594.5 1369.2 1595.8 1365 1597" stroke-width="1.86"/>
<path d="M1214.1 1557.8C1215.1 1564.8 1216.3 1589.9 1220 1600C1223.7 1610.1 1212.1 1606.7 1236 1618.5C1259.9 1630.3 1342.2 1661.9 1363.5 1670.6" stroke-width="1.86"/>
<path d="M1244 1600C1250 1599.3 1272 1599.3 1280 1596C1288 1592.7 1290 1582.7 1292 1580" stroke-width="1.86"/>
<path d="M1242 1637.8C1243 1637.5 1227.5 1628.8 1247.8 1635.9C1268 1643 1340.4 1673.5 1363.5 1680.2C1386.6 1687 1378.5 1679.8 1386.6 1676.4C1394.7 1673 1405.6 1664.8 1412 1660C1418.4 1655.2 1423 1653 1425.2 1647.4C1427.4 1641.8 1425.2 1629.7 1425.2 1626.2" stroke-width="3.9"/>
<path d="M1394.3 1599.3L1425.2 1626.2" stroke-width="3.9"/>
<path d="M1242 1637.8C1243.3 1639.8 1246.5 1645.8 1250 1650C1253.5 1654.2 1261 1660.8 1263.2 1662.9" stroke-width="1.86"/>
<path d="M1420 1630C1417.5 1634.2 1412.2 1648.3 1405 1655C1397.8 1661.7 1381.7 1667.5 1377 1670" stroke-width="1.86"/>
<path d="M1277 1653L1287 1649" stroke-width="1.86"/>
<path d="M1427.1 1647.4C1432.2 1651.6 1453.2 1665.4 1458 1672.5C1462.8 1679.6 1458.3 1681 1456 1690C1453.7 1699 1446.3 1720.4 1444.4 1726.5" stroke-width="3.9"/>
<path d="M1425.7 1643.3L1457.9 1672.8" stroke-width="3.9"/>
<path d="M1457.9 1672.8C1457.9 1675.3 1460.4 1678.4 1457.9 1687.6C1455.4 1696.8 1448.2 1718.3 1443.1 1727.9C1437.9 1737.5 1430.8 1742.6 1427 1745.3C1423.2 1748 1421.4 1744.2 1420.3 1744" stroke-width="3.9"/>
<path d="M1450 1678C1449.7 1681.7 1451 1690.5 1448 1700C1445 1709.5 1434.7 1729.2 1432 1735" stroke-width="1.86"/>
<path d="M1424.3 1648.6L1503.6 1678.2" stroke-width="3.9"/>
<path d="M1503.6 1678.2C1504.5 1679.1 1507.7 1679.8 1509 1683.6C1510.3 1687.4 1512.9 1692.5 1511.6 1701C1510.2 1709.5 1504.5 1726.8 1500.9 1734.6C1497.3 1742.4 1492.8 1746 1490.1 1748C1487.4 1750 1485.7 1746.9 1484.8 1746.7" stroke-width="3.9"/>
<path d="M1484.8 1746.7L1444.5 1727.9" stroke-width="3.9"/>
<path d="M1500 1688C1500.3 1691.7 1503.7 1701 1502 1710C1500.3 1719 1492 1736.7 1490 1742" stroke-width="1.86"/>
<path d="M1425.7 1627.2C1428.1 1629.3 1427.6 1631.9 1440 1640C1452.4 1648.1 1490 1670 1500 1676" stroke-width="1.86"/>
<path d="M1503.6 1676.8C1513.9 1681.7 1555 1701.5 1565.3 1706.4" stroke-width="3.9"/>
<path d="M1565.3 1706.4C1566 1706.6 1567.6 1709.7 1569.4 1707.7C1571.2 1705.7 1574.7 1699.9 1576 1694.3C1577.3 1688.7 1578.7 1681.4 1577.4 1674.2C1576.1 1667 1574 1658.9 1568 1651.3C1562 1643.7 1550.2 1635.9 1541.2 1628.5C1532.2 1621.1 1518.6 1611.2 1514.3 1607C1510 1602.8 1515.4 1603.7 1515.6 1603" stroke-width="3.9"/>
<path d="M1436.4 1627.2L1503.6 1676.8" stroke-width="3.9"/>
<path d="M1432.4 1611C1431.7 1612.5 1427.3 1617.3 1428 1620C1428.7 1622.7 1435 1626 1436.4 1627.2" stroke-width="3.9"/>
<path d="M1559.8 1657.9C1561 1660.9 1565.9 1669 1567.1 1676C1568.3 1683 1567.1 1696 1567.1 1700" stroke-width="1.86"/>
<path d="M1512.7 1620.7L1557.1 1655.2" stroke-width="1.86"/>
<path d="M1490 1575.4L1506.3 1615.3" stroke-width="1.86"/>
<path d="M1534.4 1621.6C1533.1 1620.4 1527.2 1617.4 1526.3 1614.4C1525.4 1611.4 1526.6 1606.8 1529 1603.5C1531.4 1600.2 1537.9 1595.3 1540.8 1594.4C1543.7 1593.5 1545.3 1595.6 1546.2 1598C1547.1 1600.4 1547.4 1605.4 1546.2 1609C1545 1612.6 1541 1617.7 1539 1619.8C1537 1621.9 1535.2 1621.3 1534.4 1621.6" stroke-width="3.25"/>
<path d="M1543.5 1581.7C1544.9 1583.2 1550.2 1586.4 1551.7 1590.8C1553.2 1595.2 1552.9 1603.8 1552.6 1608C1552.3 1612.2 1550.4 1614.8 1549.9 1616.2" stroke-width="1.86"/>
<path d="M1539 1578L1599.7 1605.3" stroke-width="1.86"/>
<path d="M1606 1608C1608.1 1610.3 1616.1 1617.1 1618.8 1621.6C1621.5 1626.1 1622.1 1630.7 1622.4 1635.2C1622.7 1639.7 1620.9 1646.5 1620.6 1648.8" stroke-width="1.86"/>
<path d="M1479.4 1562.7C1475.8 1564.9 1465.5 1569.4 1457.9 1576.1C1450.3 1582.8 1438 1597.2 1433.7 1603C1429.5 1608.8 1432.6 1609.7 1432.4 1611" stroke-width="3.9"/>
<path d="M1540 1443C1543.9 1442.8 1557.7 1440 1563.5 1442C1569.3 1444 1572.2 1450.5 1574.7 1455.3C1577.2 1460.1 1578.3 1465.5 1578.8 1470.6C1579.3 1475.7 1579.2 1479.2 1577.8 1486C1576.4 1492.8 1573.5 1503.8 1570.6 1511.4C1567.7 1519 1565.5 1525 1560.4 1531.8C1555.3 1538.6 1548.4 1546.7 1540 1552.2C1531.6 1557.7 1517.5 1563.2 1509.8 1565C1502.1 1566.8 1496.6 1563.3 1494 1563" stroke-width="3.9"/>
<path d="M1559 1439.7C1554.2 1440.6 1538.7 1439.7 1530 1445C1521.3 1450.3 1513.4 1462.2 1506.7 1471.4C1500 1480.6 1493.2 1491.8 1490 1500C1486.8 1508.2 1486.9 1511.3 1487.6 1520.6C1488.3 1529.9 1490.3 1548.2 1494 1555.6C1497.7 1563 1507.2 1563.4 1509.8 1565" stroke-width="1.86"/>
<path d="M1465.4 1558.7L1500 1561" stroke-width="3.9"/>
<ellipse cx="1534" cy="1500" rx="21.5" ry="33" transform="rotate(22 1534 1500)" stroke-width="3.64"/>
<path d="M1533.5 1477L1535 1470L1552 1477L1551 1486" stroke-width="3.0"/>
<path d="M1538 1473L1549 1479" stroke-width="1.86"/>
<path d="M1535 1408C1530.8 1410 1517 1415.2 1510 1420C1503 1424.8 1495.8 1434.2 1493 1437" stroke-width="1.86"/>
<path d="M1470 1480C1468.3 1485 1461.3 1500 1460 1510C1458.7 1520 1459.5 1531.3 1462 1540C1464.5 1548.7 1472.8 1558.3 1475 1562" stroke-width="1.86"/>
<path d="M1462 1462L1472 1448" stroke-width="2.75"/>
<path d="M1410 1600C1412.5 1598.3 1421.2 1596.7 1425 1590C1428.8 1583.3 1432.7 1571.7 1433 1560C1433.3 1548.3 1428 1526.7 1427 1520" stroke-width="1.86"/>
<path d="M1554.3 1415.9L1570 1414.3L1665.4 1439.7" stroke-width="3.9"/>
<path d="M1665.4 1439.7C1667 1438.9 1671.3 1438.2 1675 1435C1678.7 1431.8 1681.4 1424.8 1687.6 1420.6C1693.8 1416.4 1706.4 1412.8 1712 1410C1717.6 1407.2 1721 1405.9 1721 1403.6C1721 1401.3 1713.5 1397.3 1712 1396" stroke-width="3.9"/>
<path d="M1712 1396L1580 1350" stroke-width="2.25"/>
<path d="M1554.3 1417.5C1553.8 1414.6 1552 1405.9 1551 1400C1550 1394.1 1548 1389.5 1548 1382C1548 1374.5 1548.1 1360.8 1551 1355C1553.9 1349.2 1560.6 1347.8 1565.4 1347C1570.2 1346.2 1577.6 1349.5 1580 1350" stroke-width="3.9"/>
<path d="M1563 1382C1572.5 1384.3 1600.5 1391.7 1620 1396C1639.5 1400.3 1665 1407.3 1680 1408C1695 1408.7 1705 1401.3 1710 1400" stroke-width="1.86"/>
<path d="M1563.8 1344C1579.4 1349.3 1641.9 1370.6 1657.5 1375.9" stroke-width="3.9"/>
<path d="M1657.5 1375.9C1658.5 1375.1 1658.8 1376 1663.8 1371C1668.8 1366 1680.4 1352.6 1687.6 1345.7C1694.8 1338.8 1703 1333.5 1706.7 1329.8C1710.4 1326.1 1709.8 1325.3 1709.8 1323.5C1709.8 1321.7 1707.2 1319.5 1706.7 1318.7" stroke-width="3.9"/>
<path d="M1706.7 1318.7L1646.3 1287" stroke-width="3.9"/>
<path d="M1570 1352C1581.7 1355.3 1625 1369.3 1640 1372C1655 1374.7 1650 1375.5 1660 1368C1670 1360.5 1693.3 1333.8 1700 1327" stroke-width="1.86"/>
<path d="M1554.3 1415.9L1707.3 1482.9" stroke-width="3.9"/>
<path d="M1707.3 1482.9C1707.7 1483.4 1709.2 1484.6 1709.4 1485.9C1709.6 1487.2 1709.8 1489 1708.4 1491C1707 1493 1706 1498.2 1701.2 1498.2C1696.4 1498.2 1685.4 1492.4 1679.8 1491C1674.2 1489.6 1672.2 1488.6 1667.6 1490C1663 1491.4 1655.6 1497.7 1652.2 1499.2C1648.8 1500.7 1647.9 1499.2 1647 1499.2" stroke-width="3.9"/>
<path d="M1647 1499.2L1578.8 1482.9" stroke-width="3.9"/>
<path d="M1579.8 1472.7C1591.5 1475.4 1635.2 1487.8 1650.2 1489C1665.2 1490.2 1661.7 1481.2 1670 1480C1678.3 1478.8 1695 1481.7 1700 1482" stroke-width="1.86"/>
<path d="M1616.5 1495.1L1605.3 1520.6" stroke-width="3.9"/>
<path d="M1590 1489C1589.3 1490.8 1586 1496.5 1586 1500C1586 1503.5 1587.7 1509.2 1590 1510C1592.3 1510.8 1597.3 1508 1600 1505C1602.7 1502 1605 1494.2 1606 1492" stroke-width="3.25"/>
<path d="M1605.3 1521.6L1660.4 1551.2" stroke-width="3.9"/>
<path d="M1660.4 1551.2C1662.5 1553.9 1670.8 1562.8 1672.7 1567.6C1674.6 1572.4 1672.6 1576.9 1671.6 1579.8C1670.6 1582.7 1668 1584.4 1666.5 1584.9C1665 1585.4 1663.1 1583.2 1662.4 1582.9" stroke-width="3.9"/>
<path d="M1662.4 1582.9L1595.1 1551.2" stroke-width="3.9"/>
<path d="M1571.6 1512.4L1605.3 1521.6" stroke-width="2.25"/>
<path d="M1571.6 1526.7C1583.3 1532 1627.3 1552 1642 1558.4C1656.7 1564.8 1656 1561.7 1660 1565C1664 1568.3 1665 1575.8 1666 1578" stroke-width="1.86"/>
<path d="M1595.1 1552.2L1575.3 1579.9" stroke-width="3.9"/>
<path d="M1549 1560C1550 1561.7 1550.9 1566.7 1555.3 1570C1559.7 1573.3 1572 1578.2 1575.3 1579.9" stroke-width="3.9"/>
<path d="M1575.3 1579.9L1612.4 1599.9" stroke-width="3.9"/>
<path d="M1612.4 1599.9C1614.7 1602 1622.7 1608.2 1626 1612.6C1629.3 1617 1631.3 1622.4 1632.4 1626.2C1633.5 1630 1633 1631.7 1632.4 1635.2C1631.8 1638.7 1630.3 1644 1628.8 1647C1627.3 1650 1625.3 1652.6 1623.3 1653.4C1621.3 1654.2 1618 1651.9 1617 1651.6" stroke-width="3.9"/>
<path d="M1617 1650L1555.3 1621.6" stroke-width="3.9"/>
<path d="M1555.3 1621.6C1554.1 1621.6 1550.3 1620.7 1548 1621.6C1545.7 1622.5 1542.8 1626.2 1541.7 1627.1" stroke-width="3.9"/>
<path d="M1514.5 1605.3L1541.7 1627.1" stroke-width="3.9"/>
<path d="M1514.5 1605.3L1517.5 1602" stroke-width="3.9"/>
<path d="M1294.6 671.7C1295.1 670.6 1295.6 667.6 1297.5 665C1299.4 662.4 1303.2 658.1 1306.1 656.3C1309 654.5 1311.8 654.1 1314.7 654.4C1317.6 654.7 1321 656.6 1323.4 658.2C1325.8 659.8 1327.8 662.2 1329.1 664C1330.4 665.8 1330.7 668 1331 668.8" stroke-width="4.42"/>
<path d="M1294.6 671.7C1294.8 673.5 1294 679.2 1295.6 682.2C1297.2 685.2 1302.8 688.6 1304.2 689.9" stroke-width="4.42"/>
<path d="M1331 668.8L1339.7 672.6" stroke-width="4.42"/>
<path d="M1339.7 672.6C1341 672.5 1344.3 671.4 1347.3 671.7C1350.3 672 1354.7 672.9 1357.9 674.5C1361.1 676.1 1364.6 679 1366.5 681.2C1368.4 683.5 1368.9 686.9 1369.4 688" stroke-width="4.42"/>
<path d="M1369.4 688L1377.1 695.6L1383.8 701.4L1386.7 708.1L1395.3 715.8L1409.7 735.9" stroke-width="4.42"/>
<path d="M1409.7 735.9C1409.8 737.4 1410.5 741 1410.5 745C1410.5 749 1410.2 756.1 1409.7 760C1409.2 763.9 1408.1 767.1 1407.8 768.5" stroke-width="2.75"/>
<path d="M1304.2 689.9C1304.3 691.2 1304.8 695.2 1305.1 697.6C1305.4 700 1305.9 701.4 1306.1 704.3C1306.3 707.2 1305 710.8 1306.1 714.8C1307.2 718.8 1311 724.5 1312.8 728.2C1314.6 731.9 1316 735.5 1316.7 736.9" stroke-width="4.42"/>
<path d="M1316.7 736.9L1326.2 746.5L1335.8 756.1L1336.8 760.9L1331 780L1332 783L1342.6 793.5L1352.1 800L1385.4 839.4L1389.9 840.5L1404.6 840.5" stroke-width="4.42"/>
<path d="M1336.8 755.1L1357.9 783.9" stroke-width="4.42"/>
<path d="M1357.9 783.9C1361.7 783.9 1372.6 786.5 1380.9 783.9C1389.2 781.3 1403.3 771.1 1407.8 768.5" stroke-width="2.5"/>
<path d="M1298.4 678.4C1299.4 678.4 1301.8 679.5 1304.2 678.4C1306.6 677.3 1310.4 674.6 1312.8 671.7C1315.2 668.8 1317.6 662.9 1318.6 661.1" stroke-width="1.86"/>
<path d="M1307 690.8C1308.3 690.7 1312.4 691.1 1315 690C1317.6 688.9 1321.2 685.1 1322.4 684.1" stroke-width="3.0"/>
<path d="M1326.2 678.4L1328 671" stroke-width="3.0"/>
<path d="M1311 697.6C1311.5 698.5 1312 702.5 1313.8 703.3C1315.5 704.1 1318.6 703.5 1321.5 702.4C1324.4 701.3 1328 699.8 1331 696.6C1334 693.4 1338.2 686.9 1339.7 683.2C1341.2 679.5 1339.7 676 1339.7 674.5" stroke-width="2.5"/>
<path d="M1310 707C1311.4 708 1314.8 712.6 1318.6 712.9C1322.4 713.2 1328.4 711.5 1333 709C1337.6 706.5 1343.5 702.2 1346.4 697.6C1349.3 693 1350.2 684.7 1350.2 681.2C1350.2 677.7 1347 677.3 1346.4 676.5" stroke-width="2.5"/>
<path d="M1317.6 729.2C1319.4 729.4 1323.7 731.2 1328.2 730.2C1332.7 729.2 1338.9 727 1344.5 723.5C1350.1 720 1357.5 714.6 1361.7 709.1C1365.9 703.6 1368.1 693.8 1369.4 690.8" stroke-width="2.5"/>
<path d="M1326.2 740.7C1327.8 740.7 1331.5 741.8 1335.8 740.7C1340.1 739.6 1346.5 737.7 1352.1 734C1357.7 730.3 1365.2 724.5 1369.4 718.7C1373.6 713 1375.8 702.7 1377.1 699.5" stroke-width="2.5"/>
<path d="M1334.9 751.3C1336.8 751.3 1341.9 752.4 1346.4 751.3C1350.9 750.2 1356.6 748.5 1361.7 744.6C1366.8 740.8 1373.4 734 1377.1 728.2C1380.8 722.4 1382.7 713 1383.8 710" stroke-width="2.5"/>
<path d="M1395.3 712.9L1412.6 712.9L1443.3 741.7L1448.1 755.1L1427 800" stroke-width="4.42"/>
<path d="M1398.2 719.6C1399.8 719.6 1404.5 718.2 1407.8 719.6C1411.1 721 1416.1 724.5 1418.3 728.2C1420.5 731.9 1421.2 737.5 1421.2 741.7C1421.2 745.9 1419.6 750 1418.3 753.2C1417 756.4 1414.3 759.6 1413.5 760.9" stroke-width="2.5"/>
<path d="M1426 730.2C1426.5 732.1 1428.9 736.8 1428.9 741.7C1428.9 746.7 1427.9 753.2 1426 759.9C1424.1 766.6 1418.8 776.6 1417.4 782C1416 787.4 1417.4 790.8 1417.4 792.5" stroke-width="1.86"/>
<path d="M1438.5 743.6C1436.9 746.3 1432.1 754 1428.9 759.9C1425.7 765.8 1420.9 775.8 1419.3 779" stroke-width="1.86"/>
<path d="M1340.6 764.7C1340.9 767.9 1340.7 779.1 1342.6 783.9C1344.5 788.7 1347.3 791.6 1352.1 793.5C1356.9 795.4 1364.9 796.4 1371.3 795.4C1377.7 794.4 1384.1 791.2 1390.5 787.7C1396.9 784.2 1404.8 778.9 1409.7 774.3C1414.6 769.7 1418.3 762.4 1420 760" stroke-width="2.5"/>
<path d="M1448 758L1458.6 767.6L1460.5 779L1459.6 788.7L1467.3 798.3" stroke-width="4.42"/>
<path d="M1447.7 760L1428.4 802L1370.6 821.2" stroke-width="4.42"/>
<path d="M1362.7 811L1417.1 792.9L1427 800" stroke-width="1.86"/>
<path d="M1404.6 840.5C1407.6 843.1 1417.5 853.8 1422.8 856.4C1428.1 859 1432.4 857 1436.4 856.4C1440.4 855.8 1444.9 853.6 1446.6 853" stroke-width="4.42"/>
<path d="M1448.8 853L1455.6 858.6L1460.2 854.1L1461.3 862L1468.1 872.2L1491.9 848.4L1491.9 833.7L1472.7 805.4L1460.2 790.6L1460.2 771.3L1447.7 760" stroke-width="4.42"/>
<path d="M1455 850L1462 843L1468 849L1461 855Z" stroke-width="2.75"/>
<path d="M1467 842L1476 834L1483 840L1475 848" stroke-width="2.75"/>
<path d="M1476 815L1486 832L1486 842L1471 858" stroke-width="1.86"/>
<path d="M1374 823.5C1377.8 823.1 1388.2 823.7 1396.7 821.2C1405.2 818.8 1416.5 814.1 1425 808.8C1433.5 803.5 1442.4 795.8 1447.7 789.5C1453 783.2 1455.3 774.3 1456.8 771.3" stroke-width="1.86"/>
<path d="M1383 833.7C1387.2 833 1399.1 832.6 1408 829.2C1416.9 825.8 1428.8 818.6 1436.4 813.3C1444 808 1449.6 802.6 1453.4 797.4C1457.2 792.2 1458.1 784.6 1459 782" stroke-width="2.5"/>
<path d="M1412.6 841.6C1416.6 840.1 1428.7 837.3 1436.4 832.6C1444.1 827.9 1453.9 818.8 1459 813.3C1464.1 807.8 1465.7 802 1467 799.7" stroke-width="1.86"/>
<path d="M1421.6 850.7C1425 849.6 1434.8 848.4 1442 843.9C1449.2 839.4 1460 828.8 1464.7 823.5C1469.4 818.2 1469.1 813.9 1470 812" stroke-width="2.5"/>
<path d="M1529.5 980.7C1529.3 980.4 1529 980.2 1528.5 978.8C1528 977.4 1526.9 973.2 1526.6 972.1" stroke-width="4.42"/>
<path d="M1526.6 972.1L1506.5 960.6L1498.8 960.6L1489.2 969.2L1483.4 978.8L1484.4 994.1L1505.5 1005.6L1511.2 1005.6L1517 1004.7" stroke-width="4.42"/>
<path d="M1529.5 980.7L1591.8 1013.3" stroke-width="4.42"/>
<path d="M1591.8 1013.3C1592 1014.4 1592.8 1017.8 1592.8 1020C1592.8 1022.2 1593.1 1024.1 1591.8 1026.7C1590.5 1029.3 1587.5 1034 1585.1 1035.4C1582.7 1036.9 1578.7 1035.4 1577.4 1035.4" stroke-width="4.42"/>
<path d="M1577.4 1035.4L1517 1004.7" stroke-width="4.42"/>
<path d="M1515 970.1C1513.6 971.1 1509 972.5 1506.5 975.9C1504 979.3 1500 985.7 1499.7 990.3C1499.4 994.9 1503.7 1001.5 1504.5 1003.7" stroke-width="1.86"/>
<path d="M1521.8 976.9C1520 977.7 1513.8 979.3 1511.2 981.7C1508.7 984.1 1507 988.3 1506.5 991.2C1506 994.1 1507.3 997.3 1508.4 998.9C1509.5 1000.5 1512.2 1000.6 1513 1001" stroke-width="3.25"/>
<path d="M1527 981C1526 982 1522.5 984.3 1521 987C1519.5 989.7 1518.7 994.2 1518 997C1517.3 999.8 1517.2 1002.8 1517 1004" stroke-width="2.75"/>
<path d="M1532.9 984C1531.9 985 1528.4 987.4 1526.9 990C1525.4 992.7 1524.6 997.2 1523.9 1000C1523.2 1002.9 1523.1 1005.9 1522.9 1007" stroke-width="2.75"/>
<path d="M1538.8 987.1C1537.8 988.1 1534.3 990.4 1532.8 993.1C1531.3 995.8 1530.5 1000.3 1529.8 1003.1C1529.1 1005.9 1529 1008.9 1528.8 1010.1" stroke-width="2.75"/>
<path d="M1544.7 990.1C1543.7 991.1 1540.2 993.5 1538.7 996.1C1537.2 998.8 1536.4 1003.3 1535.7 1006.1C1535 1009 1534.9 1012 1534.7 1013.1" stroke-width="2.75"/>
<path d="M1550.6 993.2C1549.6 994.2 1546.1 996.5 1544.6 999.2C1543.1 1001.9 1542.3 1006.4 1541.6 1009.2C1540.9 1012 1540.8 1015 1540.6 1016.2" stroke-width="2.75"/>
<path d="M1556.5 996.2C1555.5 997.2 1552 999.6 1550.5 1002.2C1549 1004.9 1548.2 1009.4 1547.5 1012.2C1546.8 1015.1 1546.7 1018.1 1546.5 1019.2" stroke-width="2.75"/>
<path d="M1562.4 999.3C1561.4 1000.3 1557.9 1002.6 1556.4 1005.3C1554.9 1008 1554.1 1012.5 1553.4 1015.3C1552.7 1018.1 1552.6 1021.1 1552.4 1022.3" stroke-width="2.75"/>
<path d="M1568.3 1002.4C1567.3 1003.4 1563.8 1005.7 1562.3 1008.4C1560.8 1011 1560 1015.5 1559.3 1018.4C1558.6 1021.2 1558.5 1024.2 1558.3 1025.3" stroke-width="2.75"/>
<path d="M1574.2 1005.4C1573.2 1006.4 1569.7 1008.7 1568.2 1011.4C1566.7 1014.1 1565.9 1018.6 1565.2 1021.4C1564.5 1024.2 1564.4 1027.2 1564.2 1028.4" stroke-width="2.75"/>
<path d="M1580.1 1008.5C1579.1 1009.5 1575.6 1011.8 1574.1 1014.5C1572.6 1017.1 1571.8 1021.6 1571.1 1024.5C1570.4 1027.3 1570.3 1030.3 1570.1 1031.5" stroke-width="2.75"/>
<path d="M1586 1011.5C1585 1012.5 1581.5 1014.8 1580 1017.5C1578.5 1020.2 1577.7 1024.7 1577 1027.5C1576.3 1030.3 1576.2 1033.3 1576 1034.5" stroke-width="2.75"/>
<path d="M1583 1034C1582.2 1032.5 1578 1028.7 1578 1025C1578 1021.3 1581 1014 1583 1012C1585 1010 1588.8 1012.8 1590 1013" stroke-width="1.86"/>
<path d="M1679 1114C1679 1098.3 1678.7 1038.3 1679 1020C1679.3 1001.7 1679.2 1008 1681 1004C1682.8 1000 1688.5 997.3 1690 996" stroke-width="4.16"/>
<path d="M1690 996L1763 952.5" stroke-width="4.16"/>
<path d="M1763 952.5C1763.5 952.2 1764.8 950.7 1766 950.7C1767.2 950.7 1769.3 952.2 1770 952.5" stroke-width="4.16"/>
<path d="M1770 952.5L1851 997" stroke-width="4.16"/>
<path d="M1851 997C1852.2 998.2 1856.5 1001.3 1858 1004C1859.5 1006.7 1859.7 1011.5 1860 1013" stroke-width="4.16"/>
<path d="M1860 1013L1858.6 1212L1861 1220L1860 1228" stroke-width="4.16"/>
<path d="M1860 1228C1859.2 1229 1855.8 1233 1855 1234" stroke-width="4.16"/>
<path d="M1855 1234L1776 1281" stroke-width="4.16"/>
<path d="M1776 1281C1774.7 1281.5 1770.7 1284.5 1768 1284C1765.3 1283.5 1761.3 1279 1760 1278" stroke-width="4.16"/>
<path d="M1760 1278L1665 1230" stroke-width="4.16"/>
<path d="M1665 1230C1663.8 1229 1659.3 1226.5 1658 1224C1656.7 1221.5 1657.2 1216.5 1657 1215" stroke-width="4.16"/>
<path d="M1657 1215L1657 1127" stroke-width="4.16"/>
<path d="M1657 1127C1657.7 1125.7 1658.8 1120.7 1661 1119C1663.2 1117.3 1668.5 1117.3 1670 1117" stroke-width="4.16"/>
<path d="M1631 1084L1695 1047.3L1718.4 1059.6L1718.4 1095L1673.5 1119.5Z" stroke-width="4.16" fill="#fff"/>
<path d="M1631 1084L1697 1054L1718.4 1059.6" stroke-width="1.86"/>
<path d="M1640 1082L1700 1052" stroke-width="1.55"/>
<path d="M1641.2 1084.6L1701.5 1054.6" stroke-width="1.55"/>
<path d="M1642.4 1087.2L1703 1057.2" stroke-width="1.55"/>
<path d="M1643.6 1089.8L1704.5 1059.8" stroke-width="1.55"/>
<path d="M1644.8 1092.4L1706 1062.4" stroke-width="1.55"/>
<path d="M1646 1095L1707.5 1065" stroke-width="1.55"/>
<path d="M1636 1088L1673.5 1119.5" stroke-width="2.5"/>
<ellipse cx="1697" cy="1084" rx="8.5" ry="11" transform="rotate(30 1697 1084)" stroke-width="3.25"/>
<ellipse cx="1698" cy="1084" rx="5" ry="8" transform="rotate(30 1698 1084)" stroke-width="1.55"/>
<path d="M1861 1018.7L1883 1009L1890 1014.7L1890 1029.6L1861 1046" stroke-width="3.25"/>
<path d="M1861 1022L1884 1012" stroke-width="1.86"/>
<ellipse cx="1877" cy="1027" rx="2" ry="2.5" stroke-width="1.55"/>
<path d="M1690 1005L1773.5 1053" stroke-width="1.86"/>
<path d="M1693 1002L1775 1048" stroke-width="1.86"/>
<path d="M1787 1046L1849 1009" stroke-width="1.86"/>
<path d="M1790 1047L1853 1011" stroke-width="1.86"/>
<path d="M1779.7 1065L1779.7 1135.8L1765 1160" stroke-width="2.5"/>
<path d="M1781.6 1065L1782 1137" stroke-width="1.86"/>
<path d="M1725 1104L1779 1135" stroke-width="2.5"/>
<path d="M1684 1117L1765 1160" stroke-width="2.5"/>
<path d="M1766 1160L1763.4 1274.7" stroke-width="2.5"/>
<path d="M1769 1162L1767 1275" stroke-width="1.86"/>
<path d="M1858 1212L1778 1258L1773 1282" stroke-width="1.86"/>
<path d="M1760 1278C1761 1279.3 1763.3 1284.5 1766 1286C1768.7 1287.5 1760.7 1294.7 1776 1287C1791.3 1279.3 1844.3 1247.8 1858 1240" stroke-width="2.5"/>
<path d="M1681.7 1186L1696 1179L1718.4 1191L1718.4 1205L1703 1213L1681.7 1201Z" stroke-width="3.25"/>
<path d="M1681.7 1186L1703 1198L1718.4 1191" stroke-width="1.86"/>
<path d="M1703 1198L1703 1213" stroke-width="1.86"/>
<path d="M1686 1190L1686 1204" stroke-width="1.55"/>
<path d="M1691 1192.5L1691 1206.5" stroke-width="1.55"/>
<path d="M1696 1195L1696 1209" stroke-width="1.55"/>
</g><g fill="#000" stroke="none" font-size="37">
<text x="40" y="130" font-size="105" font-weight="bold">N</text>
<text x="144.0" textLength="353.7" lengthAdjust="spacing" y="80"><tspan font-weight="bold">*compl</tspan> 537 04 23-01</text>
<text x="1563.7" textLength="518.8" lengthAdjust="spacing" y="79"><tspan font-weight="bold">**compl</tspan> 537 06 33-02 <tspan font-weight="bold">(Lx, Rx)</tspan></text>
<text x="1428.2" textLength="251.4" lengthAdjust="spacing" y="213">537 06 44-03**</text>
<text x="826.8" y="262">*</text>
<text x="1278.4" textLength="234.4" lengthAdjust="spacing" y="376.5">501 48 54-02*</text>
<text x="1194.2" textLength="249.3" lengthAdjust="spacing" y="441">537 09 17-01**</text>
<text x="1452.8" textLength="557.0" lengthAdjust="spacing" y="619.5">503 23 51-09 <tspan font-weight="bold">Champion RCJ 6Y</tspan></text>
<text x="338.6" textLength="217.0" lengthAdjust="spacing" y="665.5">503 84 29-01</text>
<text x="689.2" textLength="216.3" lengthAdjust="spacing" y="788">537 04 67-01</text>
<text x="1819.5" y="878.7">*</text>
<text x="1096.0" textLength="300.2" lengthAdjust="spacing" y="997.5">503 21 71-16 <tspan font-weight="bold">(x2)</tspan></text>
<text x="114.8" textLength="217.1" lengthAdjust="spacing" y="1068">503 81 60-01</text>
<text x="115.8" textLength="299.8" lengthAdjust="spacing" y="1149.5">503 84 28-01 <tspan font-weight="bold">(x2)</tspan></text>
<text x="117.4" textLength="337.7" lengthAdjust="spacing" y="1273"><tspan font-weight="bold">compl</tspan> 537 03 22-01</text>
<text x="659.0" textLength="218.1" lengthAdjust="spacing" y="1404.5">537 04 68-01</text>
<text x="863.0" textLength="219.4" lengthAdjust="spacing" y="1473.5">731 71 16-51</text>
<text x="873.8" textLength="217.1" lengthAdjust="spacing" y="1627.5">503 87 28-01</text>
</g>
<g stroke-width="1.6" stroke-linecap="butt" stroke-linejoin="miter">
<path d="M256 652H318"/>
<path d="M571.7 770.3H675"/>
<path d="M1359 200.2H1420"/>
<path d="M853 249H889.6L890.6 338.4"/>
<path d="M1183 362.5H1268.8"/>
<path d="M1117.3 428.4H1187"/>
<path d="M1396.7 712.5V606.2H1445"/>
<path d="M1763.4 950.7V870.4H1811"/>
<path d="M1405.5 984.5H1483.3"/>
<path d="M359.5 1050.5L690.6 1049"/>
<path d="M427.4 1133.6H518.7"/>
<path d="M130.4 1026.4H106.3V1159.2H130.4M71.2 1078.4H106.3M70.6 1078.4V1261.5H107.1"/>
<path d="M883.9 1394H939V1298"/>
<path d="M1095.2 1459.3H1156.6V1343.9"/>
<path d="M1106.1 1613.4H1213.5"/>
</g>
</svg>
</body></html>
